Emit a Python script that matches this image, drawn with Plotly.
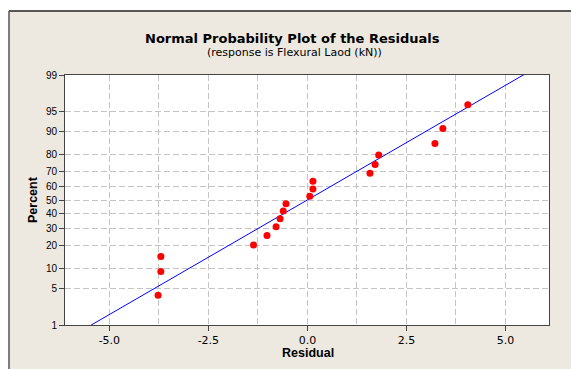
import plotly.graph_objects as go
from statistics import NormalDist, mean, stdev

# ---- data ----
residuals = [-3.77, -3.70, -3.70, -1.36, -1.02, -0.79, -0.69, -0.61, -0.54,
             0.06, 0.14, 0.14, 1.58, 1.71, 1.80, 3.22, 3.42, 4.05]
percents = [3.8, 9.2, 14.7, 20.1, 25.5, 31.0, 36.4, 41.8, 47.3,
            52.7, 58.2, 63.6, 69.0, 74.5, 79.9, 85.3, 90.8, 96.2]
y_tick_labels = [1, 5, 10, 20, 30, 40, 50, 60, 70, 80, 90, 95, 99]
x_tick_vals = [-5.0, -2.5, 0.0, 2.5, 5.0]

nd = NormalDist()
z_pts = [nd.inv_cdf(p / 100) for p in percents]
z_ticks = [nd.inv_cdf(p / 100) for p in y_tick_labels]

mu = mean(residuals)
sd = stdev(residuals)
z_line = [-2.6, 2.6]
x_line = [mu + sd * z for z in z_line]

W, H = 571, 369
L, R, T, B = 65, 22, 75, 44
pw, ph = W - L - R, H - T - B

def px(xp):
    return (xp - L) / pw

def py(yp):
    return (H - B - yp) / ph

BEIGE = "#EDE9E0"
FONT = "Liberation Sans"
TFONT = "DejaVu Sans"
GRID = "#C4C4C4"
DASH = "6px,3px"

fig = go.Figure()
fig.add_trace(go.Scatter(x=x_line, y=z_line, mode="lines",
                         line=dict(color="#0000FF", width=1),
                         hoverinfo="skip", showlegend=False))
fig.add_trace(go.Scatter(x=residuals, y=z_pts, mode="markers",
                         marker=dict(color="#FF0000", size=7),
                         showlegend=False))

fig.update_layout(
    width=W, height=H,
    margin=dict(l=L, r=R, t=T, b=B, pad=0),
    paper_bgcolor=BEIGE,
    plot_bgcolor="white",
    font=dict(family=FONT, color="#000000"),
    xaxis=dict(
        range=[-6.12, 6.10],
        tickvals=x_tick_vals,
        ticktext=["-5.0", "-2.5", "0.0", "2.5", "5.0"],
        ticks="outside", ticklen=5, tickcolor="#444444",
        tickfont=dict(size=11, family=TFONT, color="#000000"),
        showgrid=True, gridcolor=GRID, griddash=DASH, gridwidth=1,
        minor=dict(dtick=1.25, tick0=0, showgrid=True, gridcolor=GRID,
                   griddash=DASH, ticks=""),
        showline=True, linecolor="#444444", linewidth=1, mirror=True,
        zeroline=False,
    ),
    yaxis=dict(
        range=[nd.inv_cdf(0.01), nd.inv_cdf(0.99)],
        tickvals=z_ticks,
        ticktext=[str(v) for v in y_tick_labels],
        ticks="outside", ticklen=5, tickcolor="#444444",
        tickfont=dict(size=10, family=FONT, color="#000000"),
        showgrid=True, gridcolor=GRID, griddash=DASH, gridwidth=1,
        showline=True, linecolor="#444444", linewidth=1, mirror=True,
        zeroline=False,
    ),
    shapes=[
        dict(type="rect", xref="paper", yref="paper",
             x0=px(-40), x1=px(W + 40), y0=py(11), y1=py(-40),
             fillcolor="white", line=dict(width=0), layer="below"),
        dict(type="rect", xref="paper", yref="paper",
             x0=px(-40), x1=px(9), y0=py(H + 40), y1=py(-40),
             fillcolor="white", line=dict(width=0), layer="below"),
        dict(type="line", xref="paper", yref="paper",
             x0=px(9), x1=px(W + 10), y0=py(11), y1=py(11),
             line=dict(color="#222222", width=1.5)),
        dict(type="line", xref="paper", yref="paper",
             x0=px(9), x1=px(9), y0=py(H + 10), y1=py(11),
             line=dict(color="#555555", width=1.5)),
    ],
    annotations=[
        dict(text="<b>Normal Probability Plot of the Residuals</b>",
             xref="paper", yref="paper", x=px(292.5), y=py(38),
             xanchor="center", yanchor="middle", showarrow=False,
             font=dict(size=13, family=TFONT, color="#000000")),
        dict(text="(response is Flexural Laod (kN))",
             xref="paper", yref="paper", x=px(294), y=py(53),
             xanchor="center", yanchor="middle", showarrow=False,
             font=dict(size=11, family=TFONT, color="#000000")),
        dict(text="<b>Residual</b>",
             xref="paper", yref="paper", x=px(307.5), y=py(353),
             xanchor="center", yanchor="middle", showarrow=False,
             font=dict(size=12.5, family=FONT, color="#000000")),
        dict(text="<b>Percent</b>", textangle=-90,
             xref="paper", yref="paper", x=px(33), y=py(200),
             xanchor="center", yanchor="middle", showarrow=False,
             font=dict(size=12.5, family=FONT, color="#000000")),
    ],
)

fig.write_html("out.html")
